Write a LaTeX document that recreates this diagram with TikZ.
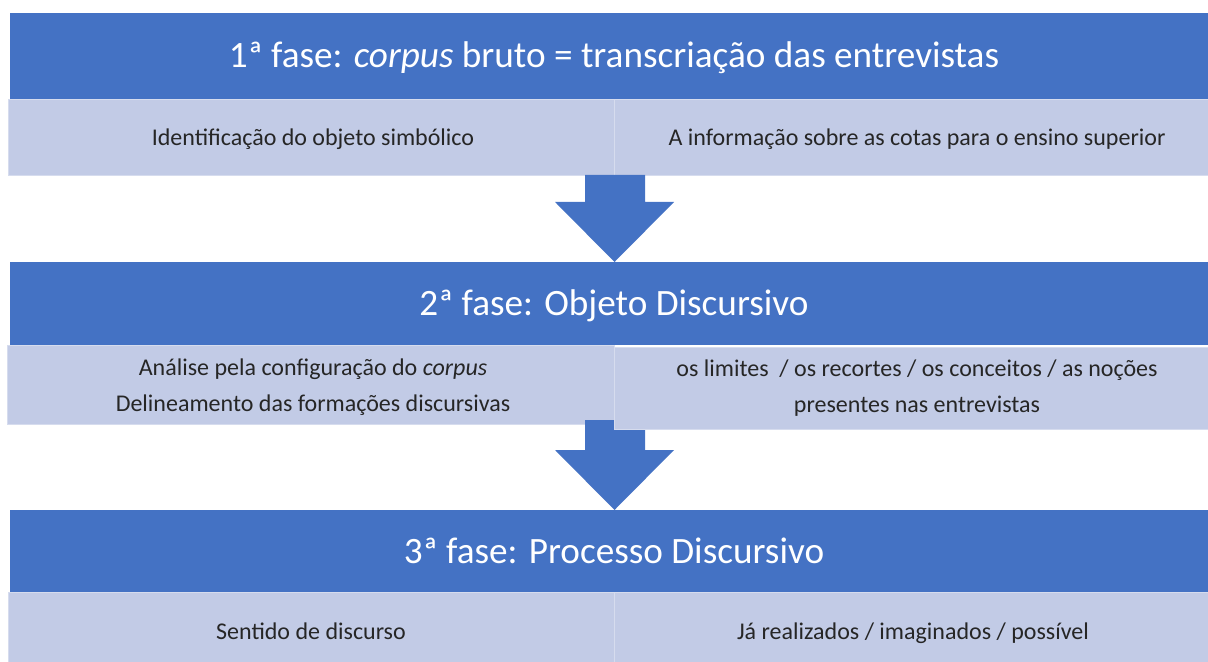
\documentclass[tikz,border=0pt]{standalone}
\usepackage{fontspec}
\setmainfont{Carlito}
\definecolor{hdr}{RGB}{68,114,196}
\definecolor{cell}{RGB}{194,203,230}
\definecolor{cellline}{RGB}{214,220,238}
\definecolor{txt}{RGB}{38,38,38}
\begin{document}
\begin{tikzpicture}[x=0.5pt,y=-0.5pt,
  header/.style={fill=hdr,draw=none,inner sep=0pt,anchor=north west,text=white,font=\fontsize{18.6}{22}\selectfont},
  headtext/.style={text=white,font=\fontsize{18.6}{22}\selectfont,inner sep=0pt,text height=13pt,text depth=4pt},
  cellbox/.style={fill=cell,draw=cellline,line width=0.6pt,inner sep=0pt,anchor=north west},
  celltext/.style={text=txt,font=\fontsize{12}{18}\selectfont,align=center,inner sep=0pt},
  oneline/.style={text height=8.6pt,text depth=2.6pt},
  flowarrow/.style={fill=hdr,draw=none}]
\useasboundingbox (0,0) rectangle (1208,662);
% phase 1
\node[header,minimum width=599pt,minimum height=43pt] (h1) at (10,13) {};
\node[headtext] (h1t) at (614,59) {1ª fase: \textit{corpus} bruto = transcriação das entrevistas};
\node[cellbox,minimum width=303pt,minimum height=38pt] (c1l) at (8,99) {};
\node[cellbox,minimum width=297pt,minimum height=38pt] (c1r) at (614,99) {};
\node[celltext,oneline] (t1l) at (313,140) {Identificação do objeto simbólico};
\node[celltext,oneline] (t1r) at (917,140) {A informação sobre as cotas para o ensino superior};
% arrow 1
\fill[flowarrow] (585,175) -- (645,175) -- (645,202) -- (674,202) -- (614.5,262) -- (555,202) -- (585,202) -- cycle;
% phase 2
\node[header,minimum width=599pt,minimum height=41.5pt] (h2) at (10,262) {};
\node[headtext] (h2t) at (614,306) {2ª fase: Objeto Discursivo};
\node[cellbox,minimum width=303.5pt,minimum height=39.5pt] (c2l) at (7,345) {};
\fill[flowarrow] (585,420) -- (645,420) -- (645,450) -- (674,450) -- (614.5,510) -- (555,450) -- (585,450) -- cycle;
\node[cellbox,minimum width=297pt,minimum height=41pt] (c2r) at (614,347) {};
\node[celltext] (t2l) at (313,387) {Análise pela configuração do \textit{corpus}\\Delineamento das formações discursivas};
\node[celltext] (t2r) at (917,388) {os limites \ / os recortes / os conceitos / as noções\\presentes nas entrevistas};
% phase 3
\node[header,minimum width=599pt,minimum height=41pt] (h3) at (10,510) {};
\node[headtext] (h3t) at (614,554) {3ª fase: Processo Discursivo};
\node[cellbox,minimum width=303pt,minimum height=36pt] (c3l) at (8,592) {};
\node[cellbox,minimum width=297pt,minimum height=36pt] (c3r) at (614,592) {};
\node[celltext,oneline] (t3l) at (311,633) {Sentido de discurso};
\node[celltext,oneline] (t3r) at (913,633) {Já realizados / imaginados / possível};
\end{tikzpicture}
\end{document}
